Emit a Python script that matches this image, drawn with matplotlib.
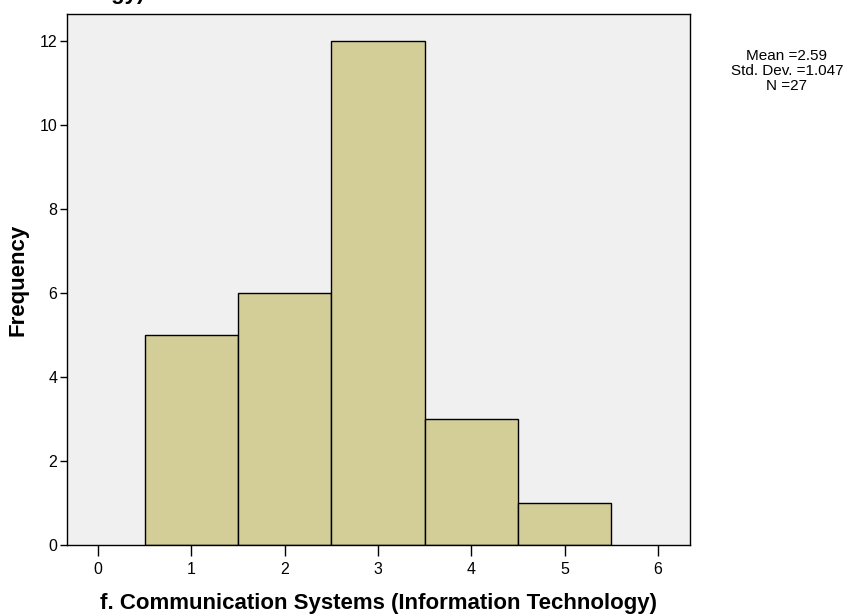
import matplotlib.pyplot as plt

plt.rcParams['font.family'] = ['Liberation Sans', 'DejaVu Sans']

values = [1, 2, 3, 4, 5]
counts = [5, 6, 12, 3, 1]
x_ticks = [0, 1, 2, 3, 4, 5, 6]
y_ticks = [0, 2, 4, 6, 8, 10, 12]
stats_text = "Mean =2.59\nStd. Dev. =1.047\nN =27"

fig = plt.figure(figsize=(8.61, 6.16), dpi=100)
ax = fig.add_axes([67 / 861, 71 / 616, 623 / 861, 531 / 616])
ax.set_facecolor('#F0F0F0')

ax.bar(values, counts, width=1.0, color='#D3CE97', edgecolor='black', linewidth=1.0, zorder=2)

ax.set_xlim(-0.332, 6.343)
ax.set_ylim(0, 12.64)
ax.set_xticks(x_ticks)
ax.set_yticks(y_ticks)
ax.tick_params(axis='both', direction='out', labelsize=11.5, width=1, colors='black')
ax.tick_params(axis='x', length=8, pad=4)
ax.tick_params(axis='y', length=5, pad=2)
for s in ax.spines.values():
    s.set_linewidth(1.0)

ax.set_xlabel("f. Communication Systems (Information Technology)", fontsize=16,
              fontweight='bold', labelpad=12)
ax.set_ylabel("Frequency", fontsize=16, fontweight='bold', labelpad=8)

# title cut off at the top of the image: only the descenders show
fig.text(145 / 861, 1.0 + 1 / 616, "Technology)", ha='right', va='baseline',
         fontsize=16, fontweight='bold')

fig.text(787 / 861, 1 - 71 / 616, stats_text, ha='center', va='center',
         fontsize=11, linespacing=1.05)

fig.savefig("out.png", dpi=100)
